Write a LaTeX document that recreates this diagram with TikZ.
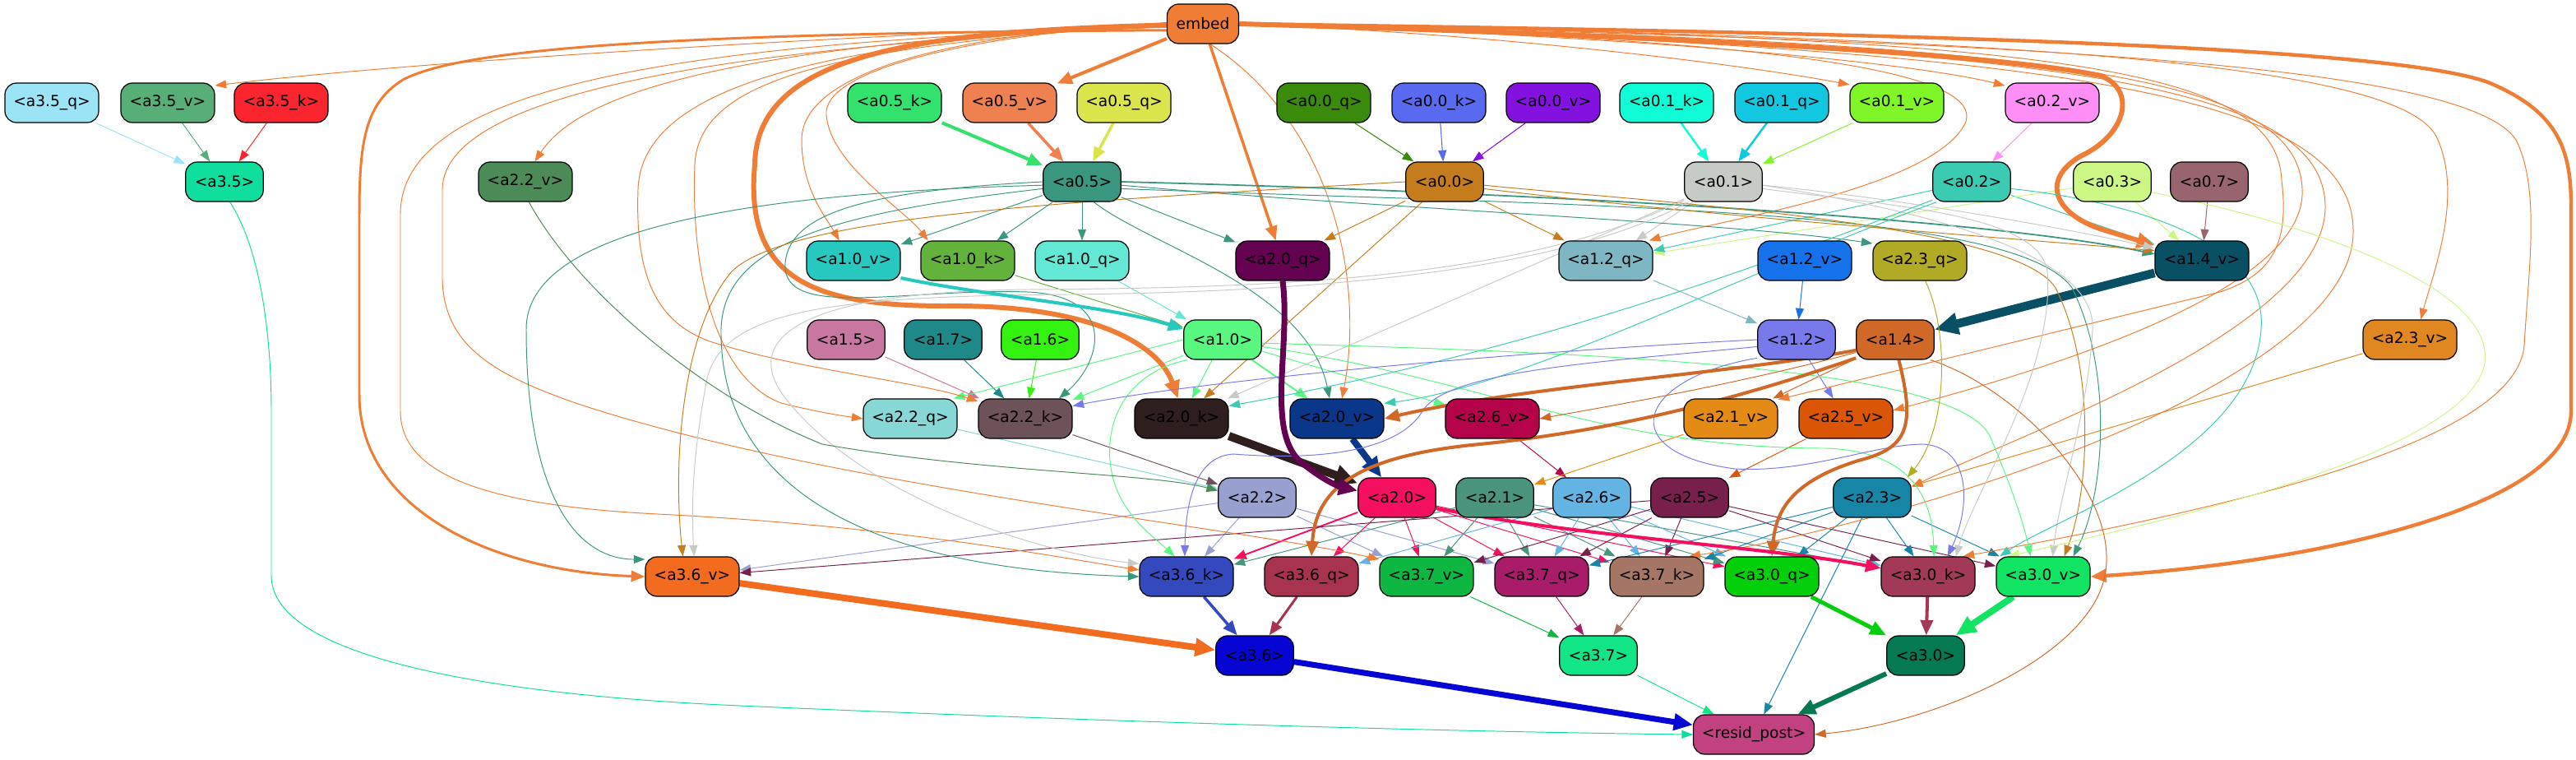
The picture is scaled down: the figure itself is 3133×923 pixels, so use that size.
\documentclass[tikz,border=0pt]{standalone}
\usepackage{fontspec}
\setmainfont{DejaVu Sans}
\usetikzlibrary{arrows.meta,backgrounds}

\tikzset{
  box/.style={draw=black, line width=0.7pt, rounded corners=0.28cm, minimum height=0.96cm, inner sep=0pt, font=\fontsize{10.6}{12}\selectfont},
  wide/.style={box, minimum width=2.28cm},
  narrow/.style={box, minimum width=1.89cm},
  ed/.style={-{Triangle[length=0.24cm 1.6, width=0.17cm 1.6]}, line width=0.55pt},
}

\begin{document}
\begin{tikzpicture}[x=0.02cm, y=-0.02cm]
\definecolor{cembed}{HTML}{EF7D35}
\definecolor{ca35q}{HTML}{9AE4F5}
\definecolor{ca35v}{HTML}{57AE76}
\definecolor{ca35k}{HTML}{FA252E}
\definecolor{ca35}{HTML}{10DE9E}
\definecolor{ca22v}{HTML}{4C8A58}
\definecolor{ca05k}{HTML}{33E16D}
\definecolor{ca05v}{HTML}{EF8151}
\definecolor{ca05q}{HTML}{D9E54B}
\definecolor{ca00q}{HTML}{3A8A0B}
\definecolor{ca00k}{HTML}{596AF0}
\definecolor{ca00v}{HTML}{8312E0}
\definecolor{ca01k}{HTML}{10FCD6}
\definecolor{ca01q}{HTML}{12C8E0}
\definecolor{ca01v}{HTML}{80F528}
\definecolor{ca02v}{HTML}{FF8EF6}
\definecolor{ca05}{HTML}{3A967E}
\definecolor{ca00}{HTML}{C47C1C}
\definecolor{ca01}{HTML}{C7CBC6}
\definecolor{ca02}{HTML}{3BCAB2}
\definecolor{ca03}{HTML}{CDF785}
\definecolor{ca07}{HTML}{98656E}
\definecolor{ca10v}{HTML}{26C8C0}
\definecolor{ca10k}{HTML}{63B23C}
\definecolor{ca10q}{HTML}{64E8D6}
\definecolor{ca20q}{HTML}{640150}
\definecolor{ca12q}{HTML}{7EB7C3}
\definecolor{ca12v}{HTML}{1672EA}
\definecolor{ca23q}{HTML}{B1AA25}
\definecolor{ca14v}{HTML}{0A5064}
\definecolor{ca15}{HTML}{C877A0}
\definecolor{ca17}{HTML}{1F898A}
\definecolor{ca16}{HTML}{33F20F}
\definecolor{ca10}{HTML}{58F880}
\definecolor{ca12}{HTML}{7879EA}
\definecolor{ca14}{HTML}{D06828}
\definecolor{ca23v}{HTML}{E08722}
\definecolor{ca22q}{HTML}{87D7D6}
\definecolor{ca22k}{HTML}{6D525A}
\definecolor{ca20k}{HTML}{2F1E1E}
\definecolor{ca20v}{HTML}{0A378A}
\definecolor{ca26v}{HTML}{B40348}
\definecolor{ca21v}{HTML}{E48B16}
\definecolor{ca25v}{HTML}{DA5505}
\definecolor{ca22}{HTML}{98A0D0}
\definecolor{ca20}{HTML}{F40F60}
\definecolor{ca21}{HTML}{4A937C}
\definecolor{ca26}{HTML}{63B4E3}
\definecolor{ca25}{HTML}{77204C}
\definecolor{ca23}{HTML}{1786A6}
\definecolor{ca36v}{HTML}{F36B1F}
\definecolor{ca36k}{HTML}{3549BE}
\definecolor{ca36q}{HTML}{A8334E}
\definecolor{ca37v}{HTML}{0EB741}
\definecolor{ca37q}{HTML}{A81C6A}
\definecolor{ca37k}{HTML}{A57666}
\definecolor{ca30q}{HTML}{03CF0A}
\definecolor{ca30k}{HTML}{A23A57}
\definecolor{ca30v}{HTML}{10E462}
\definecolor{ca36}{HTML}{0605D4}
\definecolor{ca37}{HTML}{12E586}
\definecolor{ca30}{HTML}{057952}
\definecolor{cresid}{HTML}{C24181}
\useasboundingbox (0,0) rectangle (3133,923);

% nodes
\node[box, minimum width=1.74cm, fill=cembed] (embed) at (1463,29) {embed};
\foreach \nm/\x/\y/\lab in {a35q/63/125/a3.5\_q, a35v/204/125/a3.5\_v, a35k/342/125/a3.5\_k,
  a05k/1088/125/a0.5\_k, a05v/1228/125/a0.5\_v, a05q/1367/125/a0.5\_q,
  a00q/1610/125/a0.0\_q, a00k/1750/125/a0.0\_k, a00v/1889/125/a0.0\_v,
  a01k/2027/125/a0.1\_k, a01q/2167/125/a0.1\_q, a01v/2307/125/a0.1\_v, a02v/2496/125/a0.2\_v,
  a22v/639/221/a2.2\_v,
  a10v/1038/317/a1.0\_v, a10k/1177/317/a1.0\_k, a10q/1316/317/a1.0\_q, a20q/1560/317/a2.0\_q,
  a12q/1953/317/a1.2\_q, a12v/2195/317/a1.2\_v, a23q/2335/317/a2.3\_q, a14v/2678/317/a1.4\_v,
  a23v/2931/413/a2.3\_v,
  a22q/1107/509/a2.2\_q, a22k/1247/509/a2.2\_k, a20k/1437/509/a2.0\_k, a20v/1626/509/a2.0\_v,
  a26v/1815/509/a2.6\_v, a21v/2105/509/a2.1\_v, a25v/2245/509/a2.5\_v,
  a36v/842/701/a3.6\_v, a36k/1443/701/a3.6\_k, a36q/1595/701/a3.6\_q, a37v/1735/701/a3.7\_v,
  a37q/1875/701/a3.7\_q, a37k/2015/701/a3.7\_k, a30q/2155/701/a3.0\_q, a30k/2345/701/a3.0\_k,
  a30v/2485/701/a3.0\_v}
  \node[wide, fill=c\nm] (\nm) at (\x,\y) {<\lab>};
\foreach \nm/\x/\y/\lab in {a35/273/221/a3.5, a05/1316/221/a0.5, a00/1757/221/a0.0, a01/2096/221/a0.1,
  a02/2398/221/a0.2, a03/2569/221/a0.3, a07/2687/221/a0.7,
  a15/1029/413/a1.5, a17/1147/413/a1.7, a16/1265/413/a1.6, a10/1487/413/a1.0, a12/2185/413/a1.2, a14/2305/413/a1.4,
  a22/1529/605/a2.2, a20/1699/605/a2.0, a21/1818/605/a2.1, a26/1936/605/a2.6, a25/2055/605/a2.5, a23/2277/605/a2.3,
  a36/1526/797/a3.6, a37/1944/797/a3.7, a30/2342/797/a3.0}
  \node[narrow, fill=c\nm] (\nm) at (\x,\y) {<\lab>};
\node[box, minimum width=2.94cm, fill=cresid] (resid) at (2133,893) {<resid\_post>};

\begin{scope}[on background layer]
\fill[white] (0,0) rectangle (3133,923);
% short links
\foreach \src/\dst/\wd in {a35q/a35/0.55pt, a35v/a35/0.55pt, a35k/a35/0.55pt,
  a05k/a05/2.3pt, a05v/a05/2pt, a05q/a05/2pt, a00q/a00/0.6pt, a00k/a00/0.6pt, a00v/a00/0.6pt,
  a01k/a01/1.4pt, a01q/a01/1.4pt, a01v/a01/0.55pt, a02v/a02/0.55pt,
  a03/a14v/0.55pt, a07/a14v/0.55pt, a02/a14v/0.55pt, a03/a12q/0.55pt,
  a05/a10v/0.55pt, a05/a10k/0.55pt, a05/a10q/0.55pt, a05/a20q/0.55pt,
  a00/a20q/0.55pt, a00/a12q/0.55pt, a01/a12q/0.55pt, a02/a12q/0.55pt,
  a00/a20k/0.55pt, a01/a20k/0.55pt,
  a10k/a10/0.55pt, a10q/a10/0.55pt, a12q/a12/0.55pt, a12v/a12/0.55pt, a14v/a14/6pt,
  a15/a22k/0.55pt, a17/a22k/0.55pt, a16/a22k/0.55pt,
  a10/a22k/0.55pt, a10/a20k/0.55pt, a10/a20v/1.1pt, a10/a26v/0.55pt, a12/a25v/0.55pt, a14/a21v/0.55pt,
  a22q/a22/0.55pt, a22k/a22/0.55pt, a20k/a20/5.7pt, a20v/a20/4.5pt,
  a26v/a26/0.55pt, a21v/a21/0.55pt, a25v/a25/0.55pt, a23v/a23/0.55pt,
  a22/a36v/0.55pt, a22/a36k/0.55pt, a22/a37v/0.55pt, a22/a37q/0.55pt,
  a20/a36k/1.1pt, a20/a36q/0.55pt, a20/a37v/0.55pt, a20/a37q/0.55pt, a20/a37k/0.55pt, a20/a30q/0.55pt,
  a21/a36k/0.55pt, a21/a37v/0.55pt, a21/a37q/0.55pt, a21/a37k/0.55pt, a21/a30q/0.55pt, a21/a30k/0.55pt,
  a26/a36q/0.55pt, a26/a37q/0.55pt, a26/a37k/0.55pt, a26/a30q/0.55pt, a26/a30k/0.55pt,
  a25/a36v/0.55pt, a25/a37v/0.55pt, a25/a37q/0.55pt, a25/a37k/0.55pt, a25/a30k/0.55pt, a25/a30v/0.55pt,
  a23/a37q/0.55pt, a23/a37k/0.55pt, a23/a30q/0.55pt, a23/a30k/0.55pt, a23/a30v/0.55pt, a23/resid/0.55pt,
  a36v/a36/4.5pt, a36k/a36/2pt, a36q/a36/1.7pt, a37v/a37/0.55pt, a37q/a37/0.55pt, a37k/a37/0.55pt,
  a30q/a30/2.8pt, a30k/a30/2.3pt, a30v/a30/4.5pt, a36/resid/4pt, a37/resid/0.55pt, a30/resid/3.4pt,
  embed/a05v/2.3pt, embed/a20q/2pt}
  \draw[ed, color=c\src, line width=\wd] (\src) -- (\dst);
\draw[ed, color=ca10] (a10.west) -- (a22q.25);

% from embed, left side
\draw[ed, color=cembed] (embed.west) .. controls (1000,45) and (500,75) .. (a35v.20);
\draw[ed, color=cembed] (embed.west) .. controls (1000,50) and (720,90) .. (a22v.65);
\draw[ed, color=cembed, line width=1.7pt] (embed.190) .. controls (800,40) and (560,60) .. (490,97)
  .. controls (445,125) and (437,170) .. (437,260) -- (437,480) .. controls (437,620) and (600,695) .. (a36v.west);
\draw[ed, color=cembed] (embed.185) .. controls (850,50) and (487,100) .. (487,260) -- (487,500)
  .. controls (487,580) and (600,615) .. (800,625) .. controls (1100,640) and (1300,680) .. (a36k.172);
\draw[ed, color=cembed] (embed.185) .. controls (900,55) and (540,110) .. (538,230) -- (538,340)
  .. controls (540,420) and (600,455) .. (700,490) .. controls (1000,590) and (1500,640) .. (a37v.160);
\draw[ed, color=cembed] (embed.183) .. controls (950,50) and (780,120) .. (776,230)
  .. controls (772,340) and (800,400) .. (880,420) .. controls (980,450) and (1120,465) .. (a22k.160);
\draw[ed, color=cembed] (embed.182) .. controls (1000,55) and (850,100) .. (845,200)
  .. controls (840,330) and (870,460) .. (950,490) .. controls (990,500) and (1020,505) .. (a22q.west);
\draw[ed, color=cembed] (embed.180) .. controls (1150,40) and (975,90) .. (975,170)
  .. controls (975,230) and (1005,265) .. (a10v.125);
\draw[ed, color=cembed] (embed.178) .. controls (1150,45) and (1000,90) .. (1005,140)
  .. controls (1010,200) and (1100,255) .. (a10k.153);
\draw[ed, color=cembed, line width=3.4pt] (embed.182) .. controls (1100,38) and (920,70) .. (918,200)
  .. controls (905,340) and (990,372) .. (1150,372) .. controls (1330,370) and (1410,420) .. (a20k.100);
\draw[ed, color=cembed] (embed.-70) .. controls (1620,150) and (1660,340) .. (a20v.76);

% from embed, right side
\draw[ed, color=cembed] (embed.east) .. controls (1800,40) and (2100,75) .. (a01v.159);
\draw[ed, color=cembed] (embed.east) .. controls (1900,40) and (2300,70) .. (a02v.160);
\draw[ed, color=cembed] (embed.east) .. controls (2100,45) and (2420,80) .. (2390,150)
  .. controls (2350,230) and (2080,270) .. (a12q.25);
\draw[ed, color=cembed, line width=3.4pt] (embed.east) .. controls (1900,40) and (2400,60) .. (2555,92)
  .. controls (2600,110) and (2585,165) .. (2530,190) .. controls (2480,220) and (2500,262) .. (2560,280) -- (a14v.162);
\draw[ed, color=cembed] (embed.east) .. controls (2500,45) and (2930,80) .. (2965,170)
  .. controls (2995,240) and (2960,330) .. (a23v.62);
\draw[ed, color=cembed, line width=2.5pt] (embed.east) .. controls (2300,40) and (2900,55) .. (3026,100)
  .. controls (3110,135) and (3127,180) .. (3127,250) -- (3127,500) .. controls (3127,620) and (2800,685) .. (a30v.east);
\draw[ed, color=cembed] (embed.east) .. controls (2500,50) and (3000,80) .. (3060,170)
  .. controls (3090,230) and (3075,330) .. (3070,420) .. controls (3060,540) and (2700,620) .. (a30k.30);
\draw[ed, color=cembed] (embed.east) .. controls (2500,45) and (2770,80) .. (2775,220)
  .. controls (2785,300) and (2760,335) .. (2700,355) -- (a21v.22);
\draw[ed, color=cembed] (embed.east) .. controls (2500,50) and (2795,90) .. (2800,230)
  .. controls (2805,330) and (2600,420) .. (a25v.10);
\draw[ed, color=cembed] (embed.east) .. controls (2500,55) and (2825,100) .. (2828,250)
  .. controls (2830,400) and (2450,530) .. (a23.15);
\draw[ed, color=cembed] (embed.east) .. controls (2500,60) and (2860,110) .. (2862,280)
  .. controls (2865,470) and (2300,640) .. (a37k.32);

% a0 layer
\draw[ed, color=ca05] (a05.185) .. controls (900,235) and (640,280) .. (640,400)
  .. controls (640,600) and (700,680) .. (a36v.160);
\draw[ed, color=ca05] (a05.190) .. controls (1000,260) and (880,300) .. (877,400)
  .. controls (875,560) and (1000,690) .. (a36k.west);
\draw[ed, color=ca05] (a05.180) .. controls (1050,232) and (960,260) .. (955,320)
  .. controls (950,390) and (1100,350) .. (1250,355) .. controls (1360,360) and (1340,440) .. (a22k.31);
\draw[ed, color=ca05] (a05.-60) .. controls (1400,300) and (1590,350) .. (a20v.110);
\draw[ed, color=ca05, line width=1pt] (a05.east) .. controls (1800,232) and (2400,262) .. (a14v.172);
\draw[ed, color=ca05] (a05.-5) .. controls (1700,255) and (2100,270) .. (a23q.160);
\draw[ed, color=ca05] (a05.-10) .. controls (1900,250) and (2450,250) .. (2520,350)
  .. controls (2570,450) and (2560,600) .. (a30v.34);
\draw[ed, color=ca00] (a00.-10) .. controls (2100,265) and (2450,290) .. (a14v.168);
\draw[ed, color=ca00] (a00.west) .. controls (1300,245) and (960,262) .. (890,330)
  .. controls (830,400) and (818,560) .. (a36v.115);
\draw[ed, color=ca00] (a00.-5) .. controls (2000,245) and (2450,270) .. (2500,350)
  .. controls (2550,450) and (2540,600) .. (a30v.44);
\draw[ed, color=ca01] (a01.-5) .. controls (2300,240) and (2500,275) .. (a14v.165);
\draw[ed, color=ca01] (a01.-150) .. controls (1900,330) and (1600,355) .. (1300,358)
  .. controls (1000,360) and (880,380) .. (860,460) .. controls (845,540) and (840,600) .. (a36v.85);
\draw[ed, color=ca01] (a01.-155) .. controls (1850,340) and (1550,350) .. (1250,352)
  .. controls (950,355) and (900,420) .. (960,490) .. controls (1050,600) and (1250,670) .. (a36k.165);
\draw[ed, color=ca01] (a01.-5) .. controls (2300,250) and (2550,300) .. (2545,400)
  .. controls (2540,500) and (2505,600) .. (a30v.65);
\draw[ed, color=ca01] (a01.-10) .. controls (2300,250) and (2480,260) .. (2490,330)
  .. controls (2500,450) and (2400,600) .. (a30k.36);
\draw[ed, color=ca02] (a02.205) .. controls (2200,300) and (1900,420) .. (a20k.15);
\draw[ed, color=ca02] (a02.210) .. controls (2100,340) and (1850,470) .. (a20v.18);
\draw[ed, color=ca02] (a02.-10) .. controls (2550,240) and (2760,280) .. (2750,400)
  .. controls (2740,550) and (2500,630) .. (a30v.155);
\draw[ed, color=ca03] (a03.-15) .. controls (2800,270) and (3050,350) .. (3020,450)
  .. controls (2980,560) and (2600,640) .. (a30v.150);

% a1 layer
\draw[ed, color=ca10v, line width=2.3pt] (a10v.-20) .. controls (1200,360) and (1350,372) .. (a10.165);
\draw[ed, color=ca10] (a10.-150) .. controls (1380,450) and (1345,500) .. (1350,560)
  .. controls (1355,620) and (1400,650) .. (a36k.120);
\draw[ed, color=ca10] (a10.-10) .. controls (1800,460) and (1950,545) .. (2220,545)
  .. controls (2320,548) and (2350,600) .. (a30k.74);
\draw[ed, color=ca10] (a10.-5) .. controls (2000,430) and (2380,450) .. (2420,530)
  .. controls (2450,600) and (2462,640) .. (a30v.122);
\draw[ed, color=ca12] (a12.west) .. controls (1800,430) and (1450,465) .. (a22k.15);
\draw[ed, color=ca12] (a12.-170) .. controls (1950,440) and (1760,450) .. (1730,500)
  .. controls (1700,550) and (1600,560) .. (1500,552) .. controls (1450,555) and (1442,620) .. (a36k.95);
\draw[ed, color=ca12] (a12.-155) .. controls (1990,460) and (1960,550) .. (2110,570)
  .. controls (2200,575) and (2280,540) .. (2340,540) .. controls (2400,545) and (2395,620) .. (a30k.46);
\draw[ed, color=ca14, line width=2.3pt] (a14.195) .. controls (2100,455) and (1850,470) .. (a20v.east);
\draw[ed, color=ca14] (a14.198) .. controls (2100,470) and (1950,495) .. (a26v.east);
\draw[ed, color=ca14, line width=2.3pt] (a14.205) .. controls (2100,490) and (1950,525) .. (1800,540)
  .. controls (1640,555) and (1600,600) .. (a36q.north);
\draw[ed, color=ca14, line width=2.3pt] (a14.-80) .. controls (2330,520) and (2320,545) .. (2260,560)
  .. controls (2180,585) and (2160,620) .. (a30q.north);
\draw[ed, color=ca14] (a14.-30) .. controls (2450,470) and (2580,600) .. (2560,700)
  .. controls (2540,800) and (2350,880) .. (resid.east);
\draw[ed, color=ca23q] (a23q.-75) .. controls (2370,400) and (2370,520) .. (a23.30);

% a2 layer
\draw[ed, color=ca22v] (a22v.-80) .. controls (700,350) and (850,480) .. (1000,540)
  .. controls (1200,575) and (1400,575) .. (a22.170);
\draw[ed, color=ca20q, line width=4pt] (a20q.south) .. controls (1570,420) and (1540,520) .. (1580,560)
  .. controls (1610,585) and (1630,592) .. (a20.170);
\draw[ed, color=ca20, line width=2.3pt] (a20.-15) .. controls (1900,650) and (2150,665) .. (a30k.170);
\draw[ed, color=ca35] (a35.-75) .. controls (315,300) and (330,400) .. (330,500) -- (330,700)
  .. controls (330,800) and (600,845) .. (900,858) .. controls (1400,880) and (1800,890) .. (resid.west);
\end{scope}
\end{tikzpicture}
\end{document}
